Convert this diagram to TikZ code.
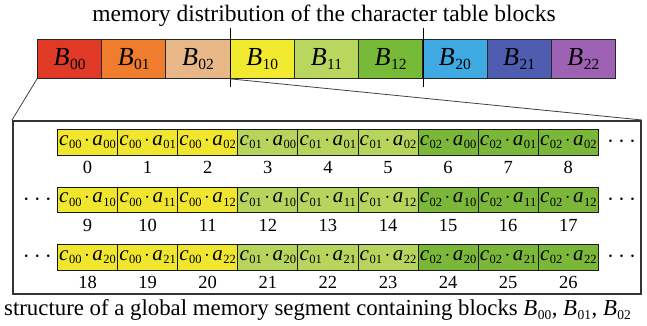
\documentclass[tikz,border=0pt]{standalone}
\usepackage{fontspec}
\setmainfont{Liberation Serif}
\usetikzlibrary{positioning}

% block colours of the character table
\definecolor{cB00}{HTML}{E03A26}
\definecolor{cB01}{HTML}{F07C2E}
\definecolor{cB02}{HTML}{E8B787}
\definecolor{cB10}{HTML}{F2EA2E}
\definecolor{cB11}{HTML}{B9D75E}
\definecolor{cB12}{HTML}{77BA38}
\definecolor{cB20}{HTML}{3FA9E2}
\definecolor{cB21}{HTML}{4F5DB0}
\definecolor{cB22}{HTML}{9E62B4}
% element colours of the memory segment
\definecolor{cellY}{HTML}{F0E62E}
\definecolor{cellL}{HTML}{B7D45C}
\definecolor{cellG}{HTML}{7BB83A}

% italic symbol with a lowered upright index: \idxsym{symbol}{index}{index size}{drop}
\newcommand{\idxsym}[4]{{\itshape #1}\kern0.5pt\lower#4\hbox{\fontsize{#3}{#3}\selectfont #2}}
\newcommand{\blk}[1]{\idxsym{B}{#1}{15.5pt}{4.5pt}}
\newcommand{\capblk}[1]{\idxsym{B}{#1}{13.5pt}{4pt}}
\newcommand{\prodca}[2]{\idxsym{c}{#1}{12.5pt}{3.5pt}\kern2.5pt$\cdot$\kern2.5pt\idxsym{a}{#2}{12.5pt}{3.5pt}}

\tikzset{
  blockcell/.style={draw=black!85, line width=0.9pt, minimum width=64.22pt,
    minimum height=39pt, inner sep=0pt, anchor=north west,
    font=\fontsize{26}{26}\selectfont},
  elemcell/.style={draw=black!90, line width=0.9pt, minimum width=60.1pt,
    minimum height=25.5pt, inner sep=0pt, anchor=north west,
    font=\fontsize{21}{21}\selectfont},
  idx/.style={font=\fontsize{18.5}{18.5}\selectfont, inner sep=0pt},
  dotsnode/.style={font=\fontsize{24}{24}\selectfont\bfseries, inner sep=0pt},
  funnel/.style={draw=black!75, line width=0.8pt},
  divider/.style={draw=black, line width=1.1pt},
  caption/.style={font=\fontsize{23.5}{23.5}\selectfont, inner sep=0pt}
}

\begin{document}
\begin{tikzpicture}[x=1pt,y=-1pt]
\useasboundingbox (0,0) rectangle (647,326);

% title
\node[caption] (title) at (324,16) {memory distribution of the character table blocks};

% top bar of blocks
\foreach \n [count=\i from 0] in {00,01,02,10,11,12,20,21,22} {
  \node[blockcell, fill=cB\n] (b\n) at ({37+\i*64.22},39) {\blk{\n}};
}

% dividers between block rows
\draw[divider] ([yshift=11pt]b02.north east) -- ([yshift=-8pt]b02.south east);
\draw[divider] ([yshift=11pt]b12.north east) -- ([yshift=-8pt]b12.south east);

% memory segment frame
\node[draw=black!80, line width=1.8pt, minimum width=628pt, minimum height=173pt,
      anchor=north west, inner sep=0pt] (seg) at (12,120) {};

% funnel from blocks B00..B02 to the segment
\draw[funnel] (b00.south west) -- (seg.north west);
\draw[funnel] (b02.south east) -- (seg.north east);

% element rows
\foreach \r/\top/\ai in {0/129/0,1/186.5/1,2/244/2} {
  \foreach \ci/\fc [count=\k from 0] in {00/cellY,01/cellL,02/cellG} {
    \foreach \aj in {0,1,2} {
      \pgfmathtruncatemacro{\col}{\k*3+\aj}
      \pgfmathtruncatemacro{\num}{\r*9+\col}
      \node[elemcell, fill=\fc] (e\num) at ({57+\col*60.1},\top) {\prodca{\ci}{\ai\aj}};
      \node[idx, below=6pt of e\num] (n\num) {\num};
    }
  }
}

% continuation marks
\node[dotsnode, right=8pt of e8] (d0r) {$\cdots$};
\node[dotsnode, right=8pt of e17] (d1r) {$\cdots$};
\node[dotsnode, right=8pt of e26] (d2r) {$\cdots$};
\node[dotsnode, left=5pt of e9] (d1l) {$\cdots$};
\node[dotsnode, left=5pt of e18] (d2l) {$\cdots$};

% caption
\node[caption, anchor=west, font=\fontsize{22.8}{22.8}\selectfont] (cap) at (4,310)
  {structure of a global memory segment containing blocks \capblk{00}\kern0.5pt, \capblk{01}\kern0.5pt, \capblk{02}};
\end{tikzpicture}
\end{document}
